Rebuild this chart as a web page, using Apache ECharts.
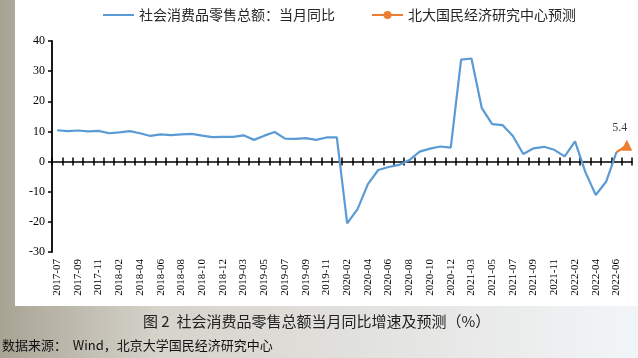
<!DOCTYPE html>
<html>
<head>
<meta charset="utf-8">
<script src="https://cdn.jsdelivr.net/npm/echarts@6/dist/echarts.min.js"></script>
<style>html,body{margin:0;padding:0;background:#fff;}#c{width:638px;height:358px;}</style>
</head>
<body>
<div id="c"></div>
<script>
const categories = [
  '2017-07','2017-08','2017-09','2017-10','2017-11','2017-12',
  '2018-02','2018-03','2018-04','2018-05','2018-06','2018-07','2018-08','2018-09','2018-10','2018-11','2018-12',
  '2019-02','2019-03','2019-04','2019-05','2019-06','2019-07','2019-08','2019-09','2019-10','2019-11','2019-12',
  '2020-02','2020-03','2020-04','2020-05','2020-06','2020-07','2020-08','2020-09','2020-10','2020-11','2020-12',
  '2021-02','2021-03','2021-04','2021-05','2021-06','2021-07','2021-08','2021-09','2021-10','2021-11','2021-12',
  '2022-02','2022-03','2022-04','2022-05','2022-06','2022-07'
];
const retailYoY = [
  10.4, 10.1, 10.3, 10.0, 10.2, 9.4,
  9.7, 10.1, 9.4, 8.5, 9.0, 8.8, 9.0, 9.2, 8.6, 8.1, 8.2,
  8.2, 8.7, 7.2, 8.6, 9.8, 7.6, 7.5, 7.8, 7.2, 8.0, 8.0,
  -20.5, -15.8, -7.5, -2.8, -1.8, -1.1, 0.5, 3.3, 4.3, 5.0, 4.6,
  33.8, 34.2, 17.7, 12.4, 12.1, 8.5, 2.5, 4.4, 4.9, 3.9, 1.7,
  6.7, -3.5, -11.1, -6.7, 3.1
];
const forecastStart = '2022-06';
const forecastValues = [3.1, 5.4];
const yTicks = { min: -30, max: 40, interval: 10 };
const seriesNames = ['社会消费品零售总额：当月同比', '北大国民经济研究中心预测'];

const SERIF = "'Liberation Serif', 'Times New Roman', serif";
const startIdx = categories.indexOf(forecastStart);
const forecast = categories.map((c, i) => {
  const k = i - startIdx;
  if (k < 0 || k >= forecastValues.length) return null;
  if (k === 0) return { value: forecastValues[k], symbol: 'none' };
  if (k === forecastValues.length - 1) return {
    value: forecastValues[k], symbol: 'triangle', symbolSize: 11,
    label: { show: true, position: 'top', distance: 6, offset: [-7, 0], color: '#404040', fontFamily: SERIF, fontSize: 12 }
  };
  return forecastValues[k];
});

const chart = echarts.init(document.getElementById('c'));
const baseX = { type: 'category', data: categories, boundaryGap: true };
chart.setOption({
  animation: false,
  graphic: [
    { type: 'rect', z: -10, silent: true, shape: { x: 0, y: 0, width: 638, height: 358 },
      style: { fill: new echarts.graphic.LinearGradient(0, 0, 1, 0, [
        { offset: 0, color: '#a8a494' }, { offset: 0.25, color: '#d6d3cb' }, { offset: 1, color: '#f2f5f8' }]) } },
    { type: 'rect', z: -9, silent: true, shape: { x: 15, y: 0, width: 623, height: 306 }, style: { fill: '#ffffff' } },
    { type: 'text', left: 143, top: 314, style: { text: '图 2  社会消费品零售总额当月同比增速及预测（%）', fill: '#222', font: '15px "Noto Sans CJK SC"' } },
    { type: 'text', left: 2, top: 339, style: { text: '数据来源：  Wind，北京大学国民经济研究中心', fill: '#111', font: '13px "Noto Sans CJK SC"' } }
  ],
  legend: {
    left: 97, top: 3, itemGap: 36, itemWidth: 31, itemHeight: 10,
    textStyle: { fontFamily: 'Noto Sans CJK SC', fontSize: 14, color: '#262626' },
    data: [{ name: seriesNames[0], itemStyle: { opacity: 0 } }, { name: seriesNames[1] }]
  },
  grid: { left: 52, right: 6, top: 41, bottom: 106 },
  xAxis: [
    Object.assign({}, baseX, {
      position: 'bottom',
      axisLine: { show: false, onZero: false },
      axisTick: { show: false },
      axisLabel: { interval: 1, rotate: 90, margin: 7, color: '#000', fontFamily: SERIF, fontSize: 11 }
    }),
    Object.assign({}, baseX, {
      position: 'bottom',
      axisLine: { show: true, onZero: true, onZeroAxisIndex: 0, lineStyle: { color: '#000', width: 1.5 } },
      axisTick: { show: true, inside: true, interval: 0, length: 4, lineStyle: { color: '#000', width: 1.5 } },
      axisLabel: { show: false }
    }),
    Object.assign({}, baseX, {
      position: 'bottom',
      axisLine: { show: false, onZero: true, onZeroAxisIndex: 0 },
      axisTick: { show: true, inside: false, interval: 0, length: 4, lineStyle: { color: '#000', width: 1.5 } },
      axisLabel: { show: false }
    })
  ],
  yAxis: {
    type: 'value', min: yTicks.min, max: yTicks.max, interval: yTicks.interval,
    splitLine: { show: false },
    axisLine: { show: true, lineStyle: { color: '#000', width: 1.8 } },
    axisTick: { show: true, length: 4, lineStyle: { color: '#000', width: 1.5 } },
    axisLabel: { margin: 7, color: '#000', fontFamily: SERIF, fontSize: 12 }
  },
  series: [
    { name: seriesNames[0], type: 'line', data: retailYoY, symbol: 'none', color: '#5B9BD5',
      lineStyle: { width: 2.2, color: '#5B9BD5' }, z: 3 },
    { name: seriesNames[1], type: 'line', data: forecast, symbol: 'circle', symbolSize: 7, showAllSymbol: true,
      color: '#ED7D31', lineStyle: { width: 2.2, color: '#ED7D31' }, itemStyle: { color: '#ED7D31' }, z: 4 }
  ]
});
</script>
</body>
</html>
